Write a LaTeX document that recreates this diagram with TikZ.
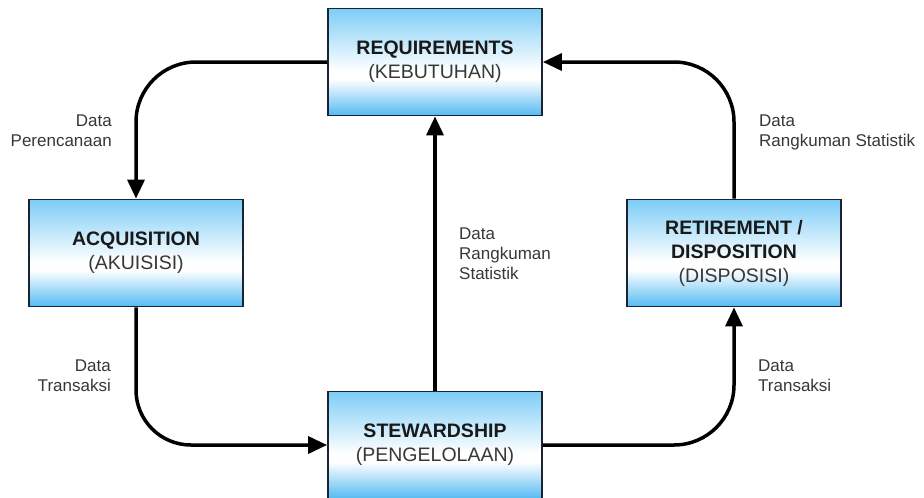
\documentclass[tikz,border=0pt]{standalone}
\usepackage{fontspec}
\setmainfont{Liberation Sans}
\usetikzlibrary{arrows.meta}
\definecolor{btop}{RGB}{125,205,247}
\definecolor{bbot}{RGB}{85,186,242}
\definecolor{bline}{RGB}{25,35,50}
\definecolor{txtgray}{RGB}{55,55,55}
\definecolor{titlec}{RGB}{25,25,25}
\pgfdeclareverticalshading{boxshade}{100bp}{color(0bp)=(bbot); color(25bp)=(bbot); color(42bp)=(white); color(46bp)=(white); color(75bp)=(btop); color(100bp)=(btop)}
\begin{document}
\begin{tikzpicture}[x=1pt,y=-1pt,
  stage/.style={draw=bline, line width=1.8pt, shading=boxshade, minimum width=214pt, minimum height=107pt, inner sep=0pt, align=center, font=\fontsize{19.5}{24}\selectfont, text=titlec},
  flow/.style={line width=3.5pt, -{Triangle[length=19pt,width=17pt]}},
  lbl/.style={inner sep=0pt, font=\fontsize{17}{20}\selectfont, text=txtgray}]
\useasboundingbox (0,0) rectangle (924,498);
\node[stage] (req) at (435,62) {\bfseries REQUIREMENTS\\\textcolor{txtgray}{(KEBUTUHAN)}};
\node[stage] (acq) at (136,253) {\bfseries ACQUISITION\\\textcolor{txtgray}{(AKUISISI)}};
\node[stage] (ret) at (734,253) {\bfseries RETIREMENT /\\\bfseries DISPOSITION\\\textcolor{txtgray}{(DISPOSISI)}};
\node[stage] (stew) at (435,445) {\bfseries STEWARDSHIP\\\textcolor{txtgray}{(PENGELOLAAN)}};
\draw[flow, rounded corners=60pt] (req.west) -| (acq.north);
\draw[flow, rounded corners=55pt] (acq.south) |- (stew.west);
\draw[flow] (stew.north) -- (req.south);
\draw[flow, rounded corners=60pt] (stew.east) -| (ret.south);
\draw[flow, rounded corners=60pt] (ret.north) |- (req.east);
\node[lbl, anchor=north east, align=right] (l1) at (112,115) {Data\\Perencanaan};
\node[lbl, anchor=north east, align=right] (l2) at (111,360) {Data\\Transaksi};
\node[lbl, anchor=north west, align=left] (l3) at (459,228) {Data\\Rangkuman\\Statistik};
\node[lbl, anchor=north west, align=left] (l4) at (758,360) {Data\\Transaksi};
\node[lbl, anchor=north west, align=left] (l5) at (759,115) {Data\\Rangkuman Statistik};
\end{tikzpicture}
\end{document}
